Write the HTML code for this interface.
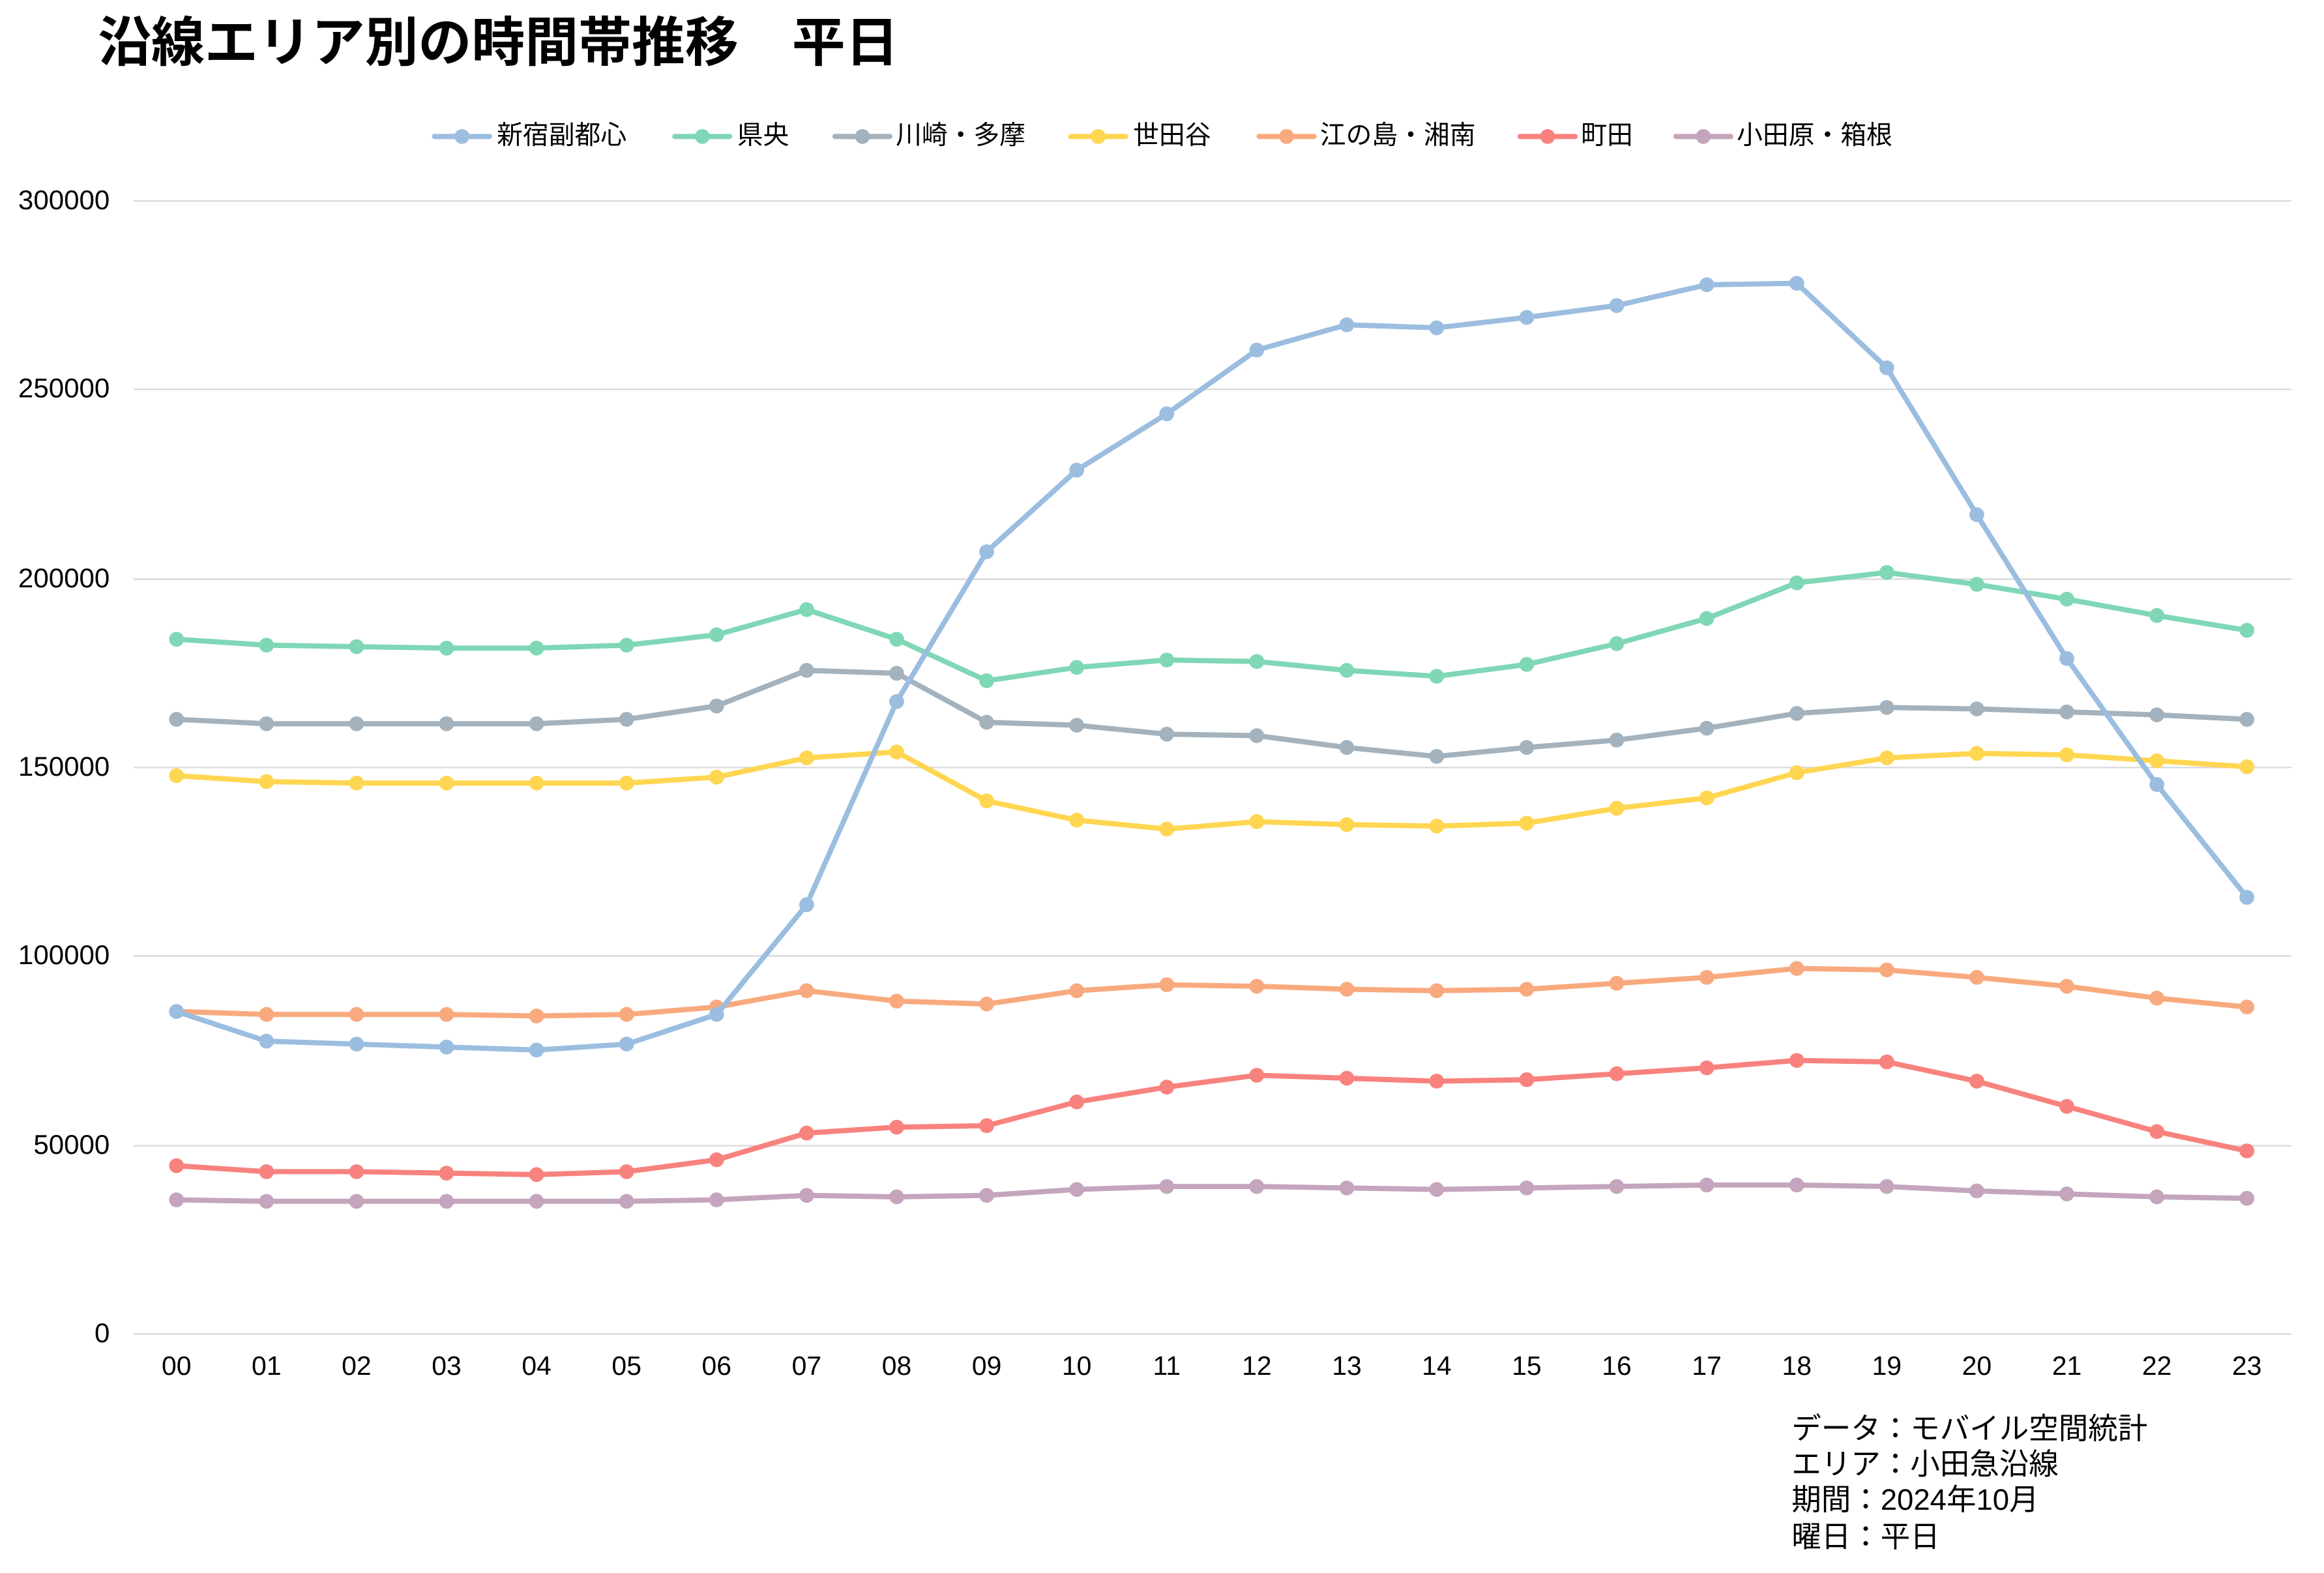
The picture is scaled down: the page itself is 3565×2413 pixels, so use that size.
<!DOCTYPE html>
<html><head><meta charset="utf-8"><style>
html,body{margin:0;padding:0;background:#fff;}
svg{display:block;}
text{font-family:"Liberation Sans","Noto Sans CJK JP",sans-serif;}
</style></head><body>
<svg width="3565" height="2413" viewBox="0 0 1567 1060.6" xmlns="http://www.w3.org/2000/svg">
<defs>
<marker id="mb" markerUnits="userSpaceOnUse" markerWidth="12" markerHeight="12" refX="6" refY="6"><circle cx="6" cy="6" r="5" fill="#9bbde0"/></marker>
<marker id="mg" markerUnits="userSpaceOnUse" markerWidth="12" markerHeight="12" refX="6" refY="6"><circle cx="6" cy="6" r="5" fill="#7fd7b6"/></marker>
<marker id="mgr" markerUnits="userSpaceOnUse" markerWidth="12" markerHeight="12" refX="6" refY="6"><circle cx="6" cy="6" r="5" fill="#a3b2bd"/></marker>
<marker id="my" markerUnits="userSpaceOnUse" markerWidth="12" markerHeight="12" refX="6" refY="6"><circle cx="6" cy="6" r="5" fill="#ffd651"/></marker>
<marker id="mo" markerUnits="userSpaceOnUse" markerWidth="12" markerHeight="12" refX="6" refY="6"><circle cx="6" cy="6" r="5" fill="#f8aa7e"/></marker>
<marker id="mr" markerUnits="userSpaceOnUse" markerWidth="12" markerHeight="12" refX="6" refY="6"><circle cx="6" cy="6" r="5" fill="#f8827e"/></marker>
<marker id="mp" markerUnits="userSpaceOnUse" markerWidth="12" markerHeight="12" refX="6" refY="6"><circle cx="6" cy="6" r="5" fill="#c4a5bd"/></marker>
</defs>
<text x="66" y="41" font-size="36" font-weight="bold" fill="#000">沿線エリア別の時間帯推移　平日</text>

<g stroke="#d9d9d9" stroke-width="1">
<line x1="90" y1="135.5" x2="1545" y2="135.5"/>
<line x1="90" y1="262.5" x2="1545" y2="262.5"/>
<line x1="90" y1="390.5" x2="1545" y2="390.5"/>
<line x1="90" y1="517.5" x2="1545" y2="517.5"/>
<line x1="90" y1="644.5" x2="1545" y2="644.5"/>
<line x1="90" y1="772.5" x2="1545" y2="772.5"/>
<line x1="90" y1="899.5" x2="1545" y2="899.5"/>
</g>
<g font-size="18.5" fill="#000" text-anchor="end">
<text x="74" y="141">300000</text>
<text x="74" y="268">250000</text>
<text x="74" y="396">200000</text>
<text x="74" y="523">150000</text>
<text x="74" y="650">100000</text>
<text x="74" y="778">50000</text>
<text x="74" y="905">0</text>
</g>
<g font-size="18" fill="#000" text-anchor="middle">
<text x="119" y="927">00</text><text x="179.7" y="927">01</text><text x="240.4" y="927">02</text><text x="301.1" y="927">03</text><text x="361.8" y="927">04</text><text x="422.5" y="927">05</text><text x="483.2" y="927">06</text><text x="543.9" y="927">07</text><text x="604.6" y="927">08</text><text x="665.3" y="927">09</text><text x="726" y="927">10</text><text x="786.7" y="927">11</text><text x="847.4" y="927">12</text><text x="908.1" y="927">13</text><text x="968.7" y="927">14</text><text x="1029.4" y="927">15</text><text x="1090.1" y="927">16</text><text x="1150.8" y="927">17</text><text x="1211.5" y="927">18</text><text x="1272.2" y="927">19</text><text x="1332.9" y="927">20</text><text x="1393.6" y="927">21</text><text x="1454.3" y="927">22</text><text x="1515" y="927">23</text>
</g>

<g fill="none" stroke-width="3.5" stroke-linejoin="round">
<polyline stroke="#c4a5bd" marker-start="url(#mp)" marker-mid="url(#mp)" marker-end="url(#mp)" points="119,809 179.7,810 240.4,810 301.1,810 361.8,810 422.5,810 483.2,809 543.9,806 604.6,807 665.3,806 726,802 786.7,800 847.4,800 908.1,801 968.7,802 1029.4,801 1090.1,800 1150.8,799 1211.5,799 1272.2,800 1332.9,803 1393.6,805 1454.3,807 1515,808"/>
<polyline stroke="#f8827e" marker-start="url(#mr)" marker-mid="url(#mr)" marker-end="url(#mr)" points="119,786 179.7,790 240.4,790 301.1,791 361.8,792 422.5,790 483.2,782 543.9,764 604.6,760 665.3,759 726,743 786.7,733 847.4,725 908.1,727 968.7,729 1029.4,728 1090.1,724 1150.8,720 1211.5,715 1272.2,716 1332.9,729 1393.6,746 1454.3,763 1515,776"/>
<polyline stroke="#f8aa7e" marker-start="url(#mo)" marker-mid="url(#mo)" marker-end="url(#mo)" points="119,682 179.7,684 240.4,684 301.1,684 361.8,685 422.5,684 483.2,679 543.9,668 604.6,675 665.3,677 726,668 786.7,664 847.4,665 908.1,667 968.7,668 1029.4,667 1090.1,663 1150.8,659 1211.5,653 1272.2,654 1332.9,659 1393.6,665 1454.3,673 1515,679"/>
<polyline stroke="#ffd651" marker-start="url(#my)" marker-mid="url(#my)" marker-end="url(#my)" points="119,523 179.7,527 240.4,528 301.1,528 361.8,528 422.5,528 483.2,524 543.9,511 604.6,507 665.3,540 726,553 786.7,559 847.4,554 908.1,556 968.7,557 1029.4,555 1090.1,545 1150.8,538 1211.5,521 1272.2,511 1332.9,508 1393.6,509 1454.3,513 1515,517"/>
<polyline stroke="#a3b2bd" marker-start="url(#mgr)" marker-mid="url(#mgr)" marker-end="url(#mgr)" points="119,485 179.7,488 240.4,488 301.1,488 361.8,488 422.5,485 483.2,476 543.9,452 604.6,454 665.3,487 726,489 786.7,495 847.4,496 908.1,504 968.7,510 1029.4,504 1090.1,499 1150.8,491 1211.5,481 1272.2,477 1332.9,478 1393.6,480 1454.3,482 1515,485"/>
<polyline stroke="#7fd7b6" marker-start="url(#mg)" marker-mid="url(#mg)" marker-end="url(#mg)" points="119,431 179.7,435 240.4,436 301.1,437 361.8,437 422.5,435 483.2,428 543.9,411 604.6,431 665.3,459 726,450 786.7,445 847.4,446 908.1,452 968.7,456 1029.4,448 1090.1,434 1150.8,417 1211.5,393 1272.2,386 1332.9,394 1393.6,404 1454.3,415 1515,425"/>
<polyline stroke="#9bbde0" marker-start="url(#mb)" marker-mid="url(#mb)" marker-end="url(#mb)" points="119,682 179.7,702 240.4,704 301.1,706 361.8,708 422.5,704 483.2,684 543.9,610 604.6,473 665.3,372 726,317 786.7,279 847.4,236 908.1,219 968.7,221 1029.4,214 1090.1,206 1150.8,192 1211.5,191 1272.2,248 1332.9,347 1393.6,444 1454.3,529 1515,605"/>
</g>

<g stroke-width="3.5" stroke-linecap="round">
<line x1="293" y1="92" x2="330" y2="92" stroke="#9bbde0"/><circle cx="311.5" cy="92" r="5" fill="#9bbde0"/>
<line x1="455" y1="92" x2="492" y2="92" stroke="#7fd7b6"/><circle cx="473.5" cy="92" r="5" fill="#7fd7b6"/>
<line x1="563" y1="92" x2="600" y2="92" stroke="#a3b2bd"/><circle cx="581.5" cy="92" r="5" fill="#a3b2bd"/>
<line x1="722" y1="92" x2="759" y2="92" stroke="#ffd651"/><circle cx="740.5" cy="92" r="5" fill="#ffd651"/>
<line x1="849" y1="92" x2="886" y2="92" stroke="#f8aa7e"/><circle cx="867.5" cy="92" r="5" fill="#f8aa7e"/>
<line x1="1025" y1="92" x2="1062" y2="92" stroke="#f8827e"/><circle cx="1043.5" cy="92" r="5" fill="#f8827e"/>
<line x1="1130" y1="92" x2="1167" y2="92" stroke="#c4a5bd"/><circle cx="1148.5" cy="92" r="5" fill="#c4a5bd"/>
</g>
<g font-size="17.5" fill="#000">
<text x="335" y="97">新宿副都心</text>
<text x="497" y="97">県央</text>
<text x="604" y="97">川崎・多摩</text>
<text x="764" y="97">世田谷</text>
<text x="890" y="97">江の島・湘南</text>
<text x="1066" y="97">町田</text>
<text x="1171" y="97">小田原・箱根</text>
</g>
<g font-size="20" fill="#000">
<text x="1208" y="970">データ：モバイル空間統計</text>
<text x="1208" y="994">エリア：小田急沿線</text>
<text x="1208" y="1018">期間：2024年10月</text>
<text x="1208" y="1043">曜日：平日</text>
</g>
</svg>
</body></html>
